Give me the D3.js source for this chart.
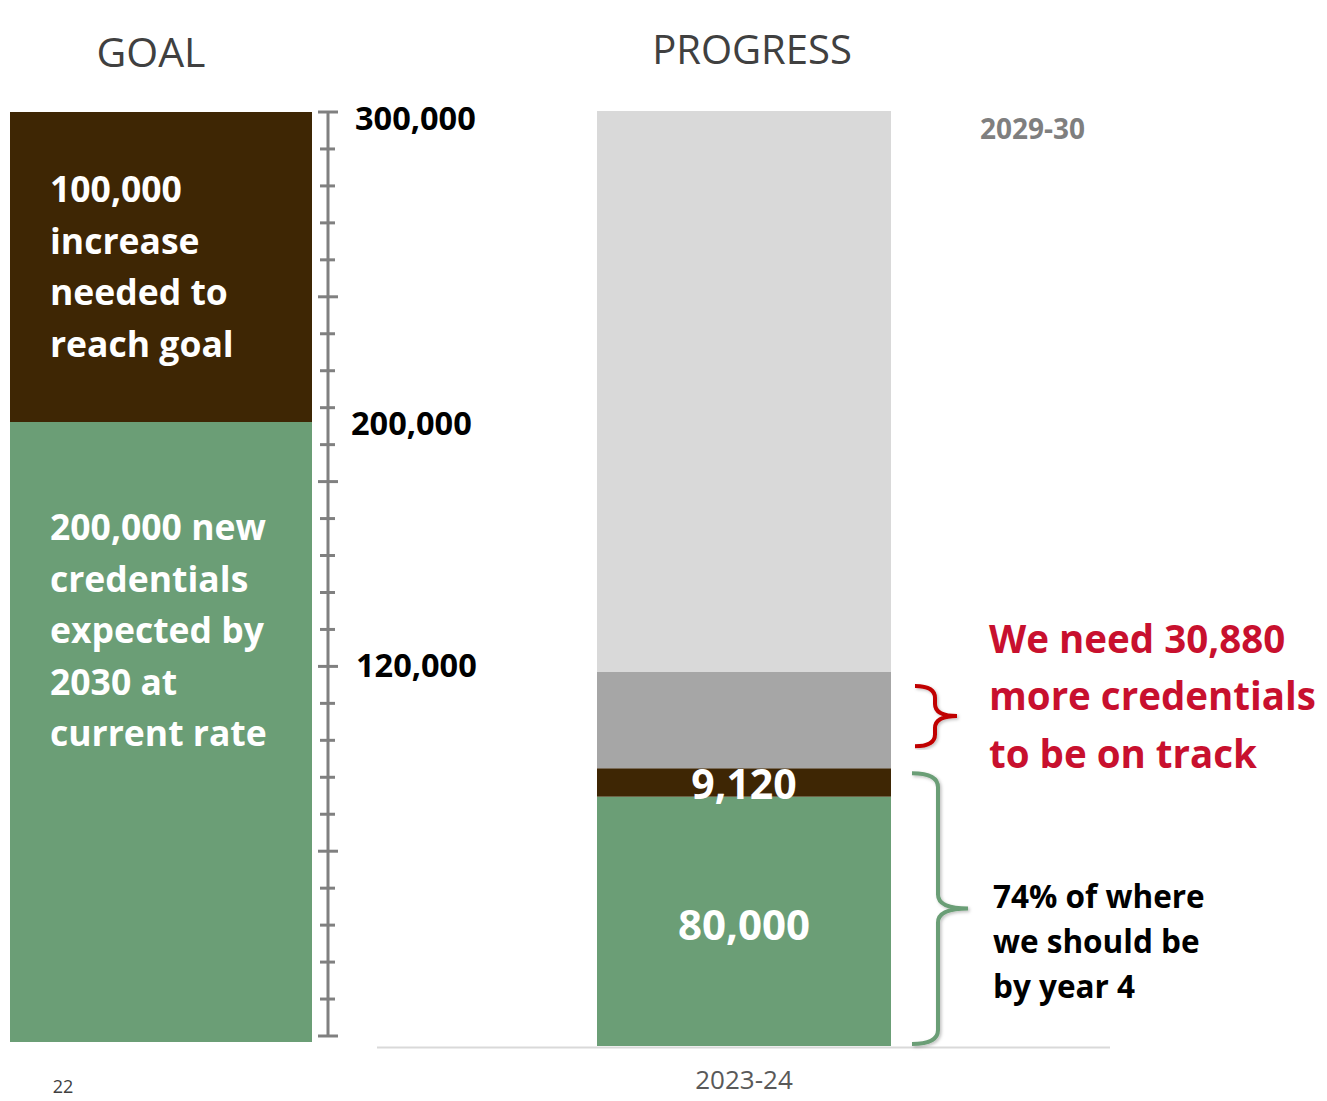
<!DOCTYPE html>
<html>
<head>
<meta charset="utf-8">
<script src="https://cdn.jsdelivr.net/npm/d3@7"></script>
<style>
  html, body { margin: 0; padding: 0; background: #fff; }
  svg { display: block; font-family: "Open Sans", "Noto Sans", sans-serif; }
</style>
</head>
<body>
<script>
// ---- Data ----------------------------------------------------------
// Goal column, stacked bottom to top
const goalKeys   = ["expected", "increase"];
const goalValues = [200000, 100000];
const goalText   = [
  ["200,000 new", "credentials", "expected by", "2030 at", "current rate"],
  ["100,000", "increase", "needed to", "reach goal"]
];

// Progress column, stacked bottom to top
const progressKeys   = ["earned", "aboveRate", "gap", "remaining"];
const progressValues = [80000, 9120, 30880, 180000];
const progressLabels = ["80,000", "9,120", "", ""];

// Axis
const axisMax       = 300000;
const axisStep      = 12000;
const axisMajorStep = 60000;
const axisLabels    = [300000, 200000, 120000];

// Text
const titles       = ["GOAL", "PROGRESS"];
const yearTop      = "2029-30";
const yearBottom   = "2023-24";
const gapNote      = ["We need 30,880", "more credentials", "to be on track"];
const progressNote = ["74% of where", "we should be", "by year 4"];
const pageNumber   = "22";

// ---- Styles ----------------------------------------------------------
const colors = {
  expected: "#6b9e76",
  increase: "#3e2604",
  earned: "#6b9e76",
  aboveRate: "#3e2604",
  gap: "#a6a6a6",
  remaining: "#d9d9d9"
};
const fmt = d3.format(",");

const W = 1327, H = 1101;
const svg = d3.select("body").append("svg").attr("width", W).attr("height", H);

const defs = svg.append("defs");
const shadow = defs.append("filter").attr("id", "soft").attr("x", "-20%").attr("y", "-5%")
  .attr("width", "140%").attr("height", "110%");
shadow.append("feDropShadow").attr("dx", 1.5).attr("dy", 1.5).attr("stdDeviation", 1.5)
  .attr("flood-color", "#000").attr("flood-opacity", 0.25);

// ---- Scales -----------------------------------------------------------
const yGoal = d3.scaleLinear().domain([0, axisMax]).range([1042, 112]);
const yAxis = d3.scaleLinear().domain([0, axisMax]).range([1036, 112]);
const yProg = d3.scaleLinear().domain([0, axisMax]).range([1046, 111]);

const goalX = 10, goalW = 302;
const progX = 597, progW = 294;

// ---- Titles -----------------------------------------------------------
svg.append("text").attr("x", 151).attr("y", 67).attr("text-anchor", "middle")
  .attr("font-size", 41).attr("fill", "#404040").text(titles[0]);
svg.append("text").attr("x", 752).attr("y", 64).attr("text-anchor", "middle")
  .attr("font-size", 40).attr("fill", "#404040").text(titles[1]);

// ---- Goal column ------------------------------------------------------
const goalStack = d3.stack().keys(goalKeys)([Object.fromEntries(goalKeys.map((k, i) => [k, goalValues[i]]))]);
const gGoal = svg.append("g");
gGoal.selectAll("rect").data(goalStack).join("rect")
  .attr("x", goalX).attr("width", goalW)
  .attr("y", d => yGoal(d[0][1]))
  .attr("height", d => yGoal(d[0][0]) - yGoal(d[0][1]))
  .attr("fill", d => colors[d.key]);

// multi-line labels, first line placed near segment top
const goalFirstLine = [528, 190];
goalStack.forEach((s, i) => {
  const t = gGoal.append("text").attr("fill", "#fff").attr("font-weight", 700)
    .attr("font-size", 35.5);
  goalText[i].forEach((line, j) => {
    t.append("tspan").attr("x", 50).attr("y", goalFirstLine[i] + 12 + j * 51.5).text(line);
  });
});

// ---- Axis -------------------------------------------------------------
const tickVals = d3.range(0, axisMax + 1, axisStep);
const gAxis = svg.append("g").attr("stroke", "#808080").attr("stroke-width", 3);
gAxis.append("line").attr("x1", 328).attr("x2", 328)
  .attr("y1", yAxis(0)).attr("y2", yAxis(axisMax));
gAxis.selectAll("line.tick").data(tickVals).join("line").attr("class", "tick")
  .attr("x1", d => d % axisMajorStep === 0 ? 318 : 320)
  .attr("x2", d => d % axisMajorStep === 0 ? 338 : 335)
  .attr("y1", d => yAxis(d)).attr("y2", d => yAxis(d));

const axisLabelPos = { 300000: [355, yAxis(300000) + 6], 200000: [351, yGoal(200000) + 1], 120000: [356, yAxis(120000) - 1] };
svg.append("g").selectAll("text").data(axisLabels).join("text")
  .attr("x", d => axisLabelPos[d][0])
  .attr("y", d => axisLabelPos[d][1])
  .attr("dy", "0.36em")
  .attr("font-size", 32.5).attr("font-weight", 700).attr("fill", "#000")
  .text(d => fmt(d));

// ---- Progress column --------------------------------------------------
const progStack = d3.stack().keys(progressKeys)([Object.fromEntries(progressKeys.map((k, i) => [k, progressValues[i]]))]);
const gProg = svg.append("g");
gProg.selectAll("rect").data(progStack).join("rect")
  .attr("x", progX).attr("width", progW)
  .attr("y", d => yProg(d[0][1]))
  .attr("height", d => yProg(d[0][0]) - yProg(d[0][1]))
  .attr("fill", d => colors[d.key]);

// value labels
gProg.append("text").attr("x", progX + progW / 2)
  .attr("y", (yProg(progStack[0][0][0]) + yProg(progStack[0][0][1])) / 2 + 4)
  .attr("dy", "0.36em").attr("text-anchor", "middle")
  .attr("font-size", 42).attr("font-weight", 700).attr("fill", "#fff").text(progressLabels[0]);
gProg.append("text").attr("x", progX + progW / 2)
  .attr("y", (yProg(progStack[1][0][0]) + yProg(progStack[1][0][1])) / 2 + 2)
  .attr("dy", "0.36em").attr("text-anchor", "middle")
  .attr("font-size", 41).attr("font-weight", 700).attr("fill", "#fff").text(progressLabels[1]);

// baseline
svg.append("line").attr("x1", 377).attr("x2", 1110)
  .attr("y1", 1047.5).attr("y2", 1047.5).attr("stroke", "#d9d9d9").attr("stroke-width", 2);

// category labels
svg.append("text").attr("x", 980).attr("y", 129).attr("dy", "0.36em")
  .attr("font-size", 28).attr("font-weight", 700).attr("fill", "#7f7f7f").text(yearTop);
svg.append("text").attr("x", 744).attr("y", 1080).attr("dy", "0.36em").attr("text-anchor", "middle")
  .attr("font-size", 26).attr("fill", "#595959").text(yearBottom);

// ---- Braces -------------------------------------------------------------
function brace(xEnd, xSpine, xTip, y0, y1, r) {
  const ym = (y0 + y1) / 2;
  return `M${xEnd},${y0} Q${xSpine},${y0} ${xSpine},${y0 + r} L${xSpine},${ym - r} ` +
         `Q${xSpine},${ym} ${xTip},${ym} Q${xSpine},${ym} ${xSpine},${ym + r} ` +
         `L${xSpine},${y1 - r} Q${xSpine},${y1} ${xEnd},${y1}`;
}
const aboveTotal = progressValues[0] + progressValues[1];
const gapTop = aboveTotal + progressValues[2];

svg.append("path")
  .attr("d", brace(915, 935, 957, yProg(gapTop) + 14, yProg(aboveTotal) - 22, 12))
  .attr("fill", "none").attr("stroke", "#c00000").attr("stroke-width", 4)
  .attr("filter", "url(#soft)");
svg.append("path")
  .attr("d", brace(912, 938, 968, yProg(aboveTotal) + 5, yProg(0) - 2, 14))
  .attr("fill", "none").attr("stroke", "#6b9e76").attr("stroke-width", 4)
  .attr("filter", "url(#soft)");

// ---- Notes --------------------------------------------------------------
const tGap = svg.append("text").attr("font-size", 38.5).attr("font-weight", 700).attr("fill", "#c8102e");
gapNote.forEach((line, j) => {
  tGap.append("tspan").attr("x", 989).attr("y", 639 + j * 57.5).attr("dy", "0.36em").text(line);
});
const tProg = svg.append("text").attr("font-size", 31.5).attr("font-weight", 700).attr("fill", "#000");
progressNote.forEach((line, j) => {
  tProg.append("tspan").attr("x", 993).attr("y", 897 + j * 45).attr("dy", "0.36em").text(line);
});

// page number
svg.append("text").attr("x", 63).attr("y", 1093).attr("text-anchor", "middle")
  .attr("font-size", 18).attr("fill", "#404040").text(pageNumber);
</script>
</body>
</html>
